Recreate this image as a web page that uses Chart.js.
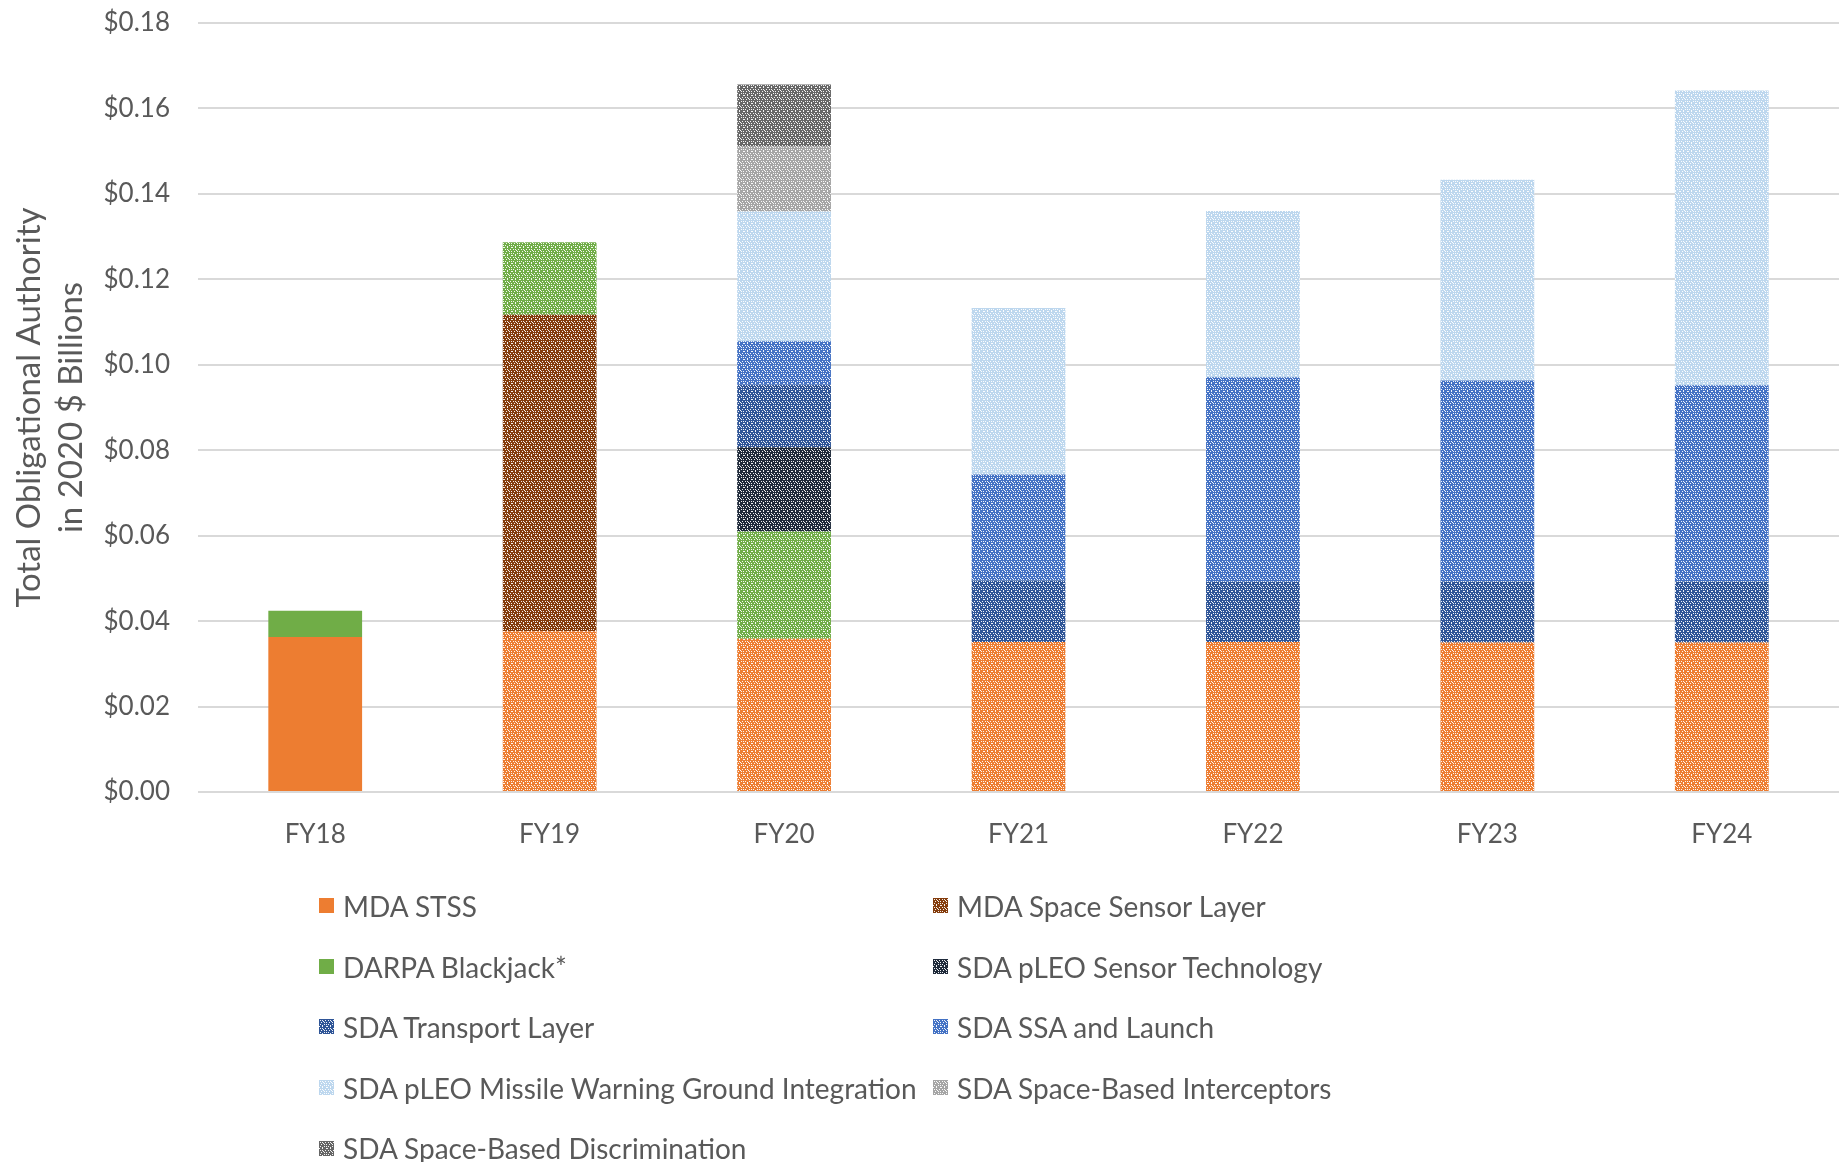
<!DOCTYPE html>
<html>
<head>
<meta charset="utf-8">
<script src="https://cdn.jsdelivr.net/npm/chart.js@4.4.1/dist/chart.umd.min.js"></script>
<style>
  html, body { margin: 0; padding: 0; background: #fff; }
  #wrap { position: relative; width: 1839px; height: 1162px; overflow: hidden; }
  #chart { position: absolute; left: 0; top: 0; }
  #legend { position: absolute; left: 0; top: 0; width: 1839px; height: 1162px; pointer-events: none;
            font-family: Lato, "Open Sans", sans-serif; font-size: 28px; color: #595959; }
  .item { position: absolute; display: flex; align-items: center; white-space: nowrap; height: 40px; }
  .sw { width: 15px; height: 15px; margin-right: 9px; flex: none; }
</style>
</head>
<body>
<div id="wrap">
  <canvas id="chart" width="1839" height="1162"></canvas>
  <div id="legend"></div>
</div>
<script>
// ---- data ----
const categories = ['FY18', 'FY19', 'FY20', 'FY21', 'FY22', 'FY23', 'FY24'];
const seriesNames = [
  'MDA STSS',
  'MDA Space Sensor Layer',
  'DARPA Blackjack*',
  'SDA pLEO Sensor Technology',
  'SDA Transport Layer',
  'SDA SSA and Launch',
  'SDA pLEO Missile Warning Ground Integration',
  'SDA Space-Based Interceptors',
  'SDA Space-Based Discrimination'
];
const mdaStss          = [0.0363, 0.0376, 0.0359, 0.0351, 0.0351, 0.0350, 0.0350];
const mdaSensorLayer   = [null,   0.0741, null,   null,   null,   null,   null];
const darpaBlackjack   = [0.0061, 0.0170, 0.0251, null,   null,   null,   null];
const sdaPleoSensor    = [null,   null,   0.0197, null,   null,   null,   null];
const sdaTransport     = [null,   null,   0.0146, 0.0144, 0.0141, 0.0143, 0.0143];
const sdaSsaLaunch     = [null,   null,   0.0102, 0.0248, 0.0479, 0.0470, 0.0459];
const sdaPleoMwGround  = [null,   null,   0.0304, 0.0390, 0.0389, 0.0470, 0.0690];
const sdaInterceptors  = [null,   null,   0.0153, null,   null,   null,   null];
const sdaDiscrimination= [null,   null,   0.0144, null,   null,   null,   null];
const yTickLabels = ['$0.00', '$0.02', '$0.04', '$0.06', '$0.08', '$0.10', '$0.12', '$0.14', '$0.16', '$0.18'];

const seriesValues = [mdaStss, mdaSensorLayer, darpaBlackjack, sdaPleoSensor, sdaTransport,
                      sdaSsaLaunch, sdaPleoMwGround, sdaInterceptors, sdaDiscrimination];

// ---- styles ----
const seriesColors = ['#ED7D31', '#843C0C', '#70AD47', '#1F2A3A', '#2F5597',
                      '#4472C4', '#BDD7EE', '#A5A5A5', '#666666'];
// first bar solid for these series (FY18 column)
const solidFirst = [true, false, true, false, false, false, false, false, false];

const tile = [
  "CCCCCCCC",
  "CWCWCCWC",
  "CCCCWCCC",
  "CCWCCWCW",
  "CCCCCCCC",
  "CWCCCWCW",
  "CCCWCCCC",
  "WCCWCCCW"
];
function makeTile(color) {
  const c = document.createElement('canvas');
  c.width = 8; c.height = 8;
  const g = c.getContext('2d');
  g.fillStyle = color; g.fillRect(0, 0, 8, 8);
  g.fillStyle = 'rgba(255,255,255,0.92)';
  for (let y = 0; y < 8; y++) for (let x = 0; x < 8; x++)
    if (tile[y][x] === 'W') g.fillRect(x, y, 1, 1);
  return c;
}
const ctx = document.getElementById('chart').getContext('2d');
const tiles = seriesColors.map(makeTile);
const patterns = tiles.map(t => ctx.createPattern(t, 'repeat'));

const datasets = seriesNames.map((name, i) => ({
  label: name,
  data: seriesValues[i],
  backgroundColor: categories.map((_, j) => (j === 0 && solidFirst[i]) ? seriesColors[i] : patterns[i]),
  borderWidth: 0,
  barPercentage: 0.4,
  categoryPercentage: 1.0
}));

new Chart(ctx, {
  type: 'bar',
  data: { labels: categories, datasets },
  options: {
    responsive: false,
    animation: false,
    devicePixelRatio: 1,
    layout: { padding: { top: 23, right: 0, bottom: 0, left: 0 } },
    plugins: { legend: { display: false }, tooltip: { enabled: false } },
    scales: {
      x: {
        stacked: true,
        grid: { display: false, drawTicks: false },
        border: { display: false },
        ticks: { color: '#595959', font: { family: 'Lato', size: 26 }, padding: 27 },
        afterFit: s => { s.height = 1162 - 792; s.paddingLeft = 0; s.paddingRight = 0; }
      },
      y: {
        stacked: true,
        min: 0, max: 0.18,
        grid: { color: '#D9D9D9', lineWidth: 2, drawTicks: false },
        border: { display: false },
        ticks: {
          stepSize: 0.02,
          color: '#595959',
          font: { family: 'Lato', size: 26 },
          padding: 28,
          callback: (v, idx) => yTickLabels[idx]
        },
        title: {
          display: true,
          text: ['Total Obligational Authority', 'in 2020 $ Billions'],
          color: '#595959',
          font: { family: 'Lato', size: 33, lineHeight: 1.27 },
          padding: { top: 8, bottom: 0 }
        },
        afterFit: s => { s.width = 198; s.paddingTop = 0; s.paddingBottom = 0; }
      }
    }
  }
});

// ---- legend (two columns) ----
const legend = document.getElementById('legend');
const colX = [319, 933];
const rowY = [905.5, 966.5, 1026.5, 1087.5, 1148];
seriesNames.forEach((name, i) => {
  const row = Math.floor(i / 2), col = i % 2;
  const item = document.createElement('div');
  item.className = 'item';
  item.style.left = colX[col] + 'px';
  item.style.top = (rowY[row] - 20) + 'px';
  const sw = document.createElement('div');
  sw.className = 'sw';
  if (solidFirst[i]) sw.style.background = seriesColors[i];
  else sw.style.backgroundImage = 'url(' + tiles[i].toDataURL() + ')';
  const tx = document.createElement('span');
  tx.textContent = name;
  item.appendChild(sw); item.appendChild(tx);
  legend.appendChild(item);
});
</script>
</body>
</html>
